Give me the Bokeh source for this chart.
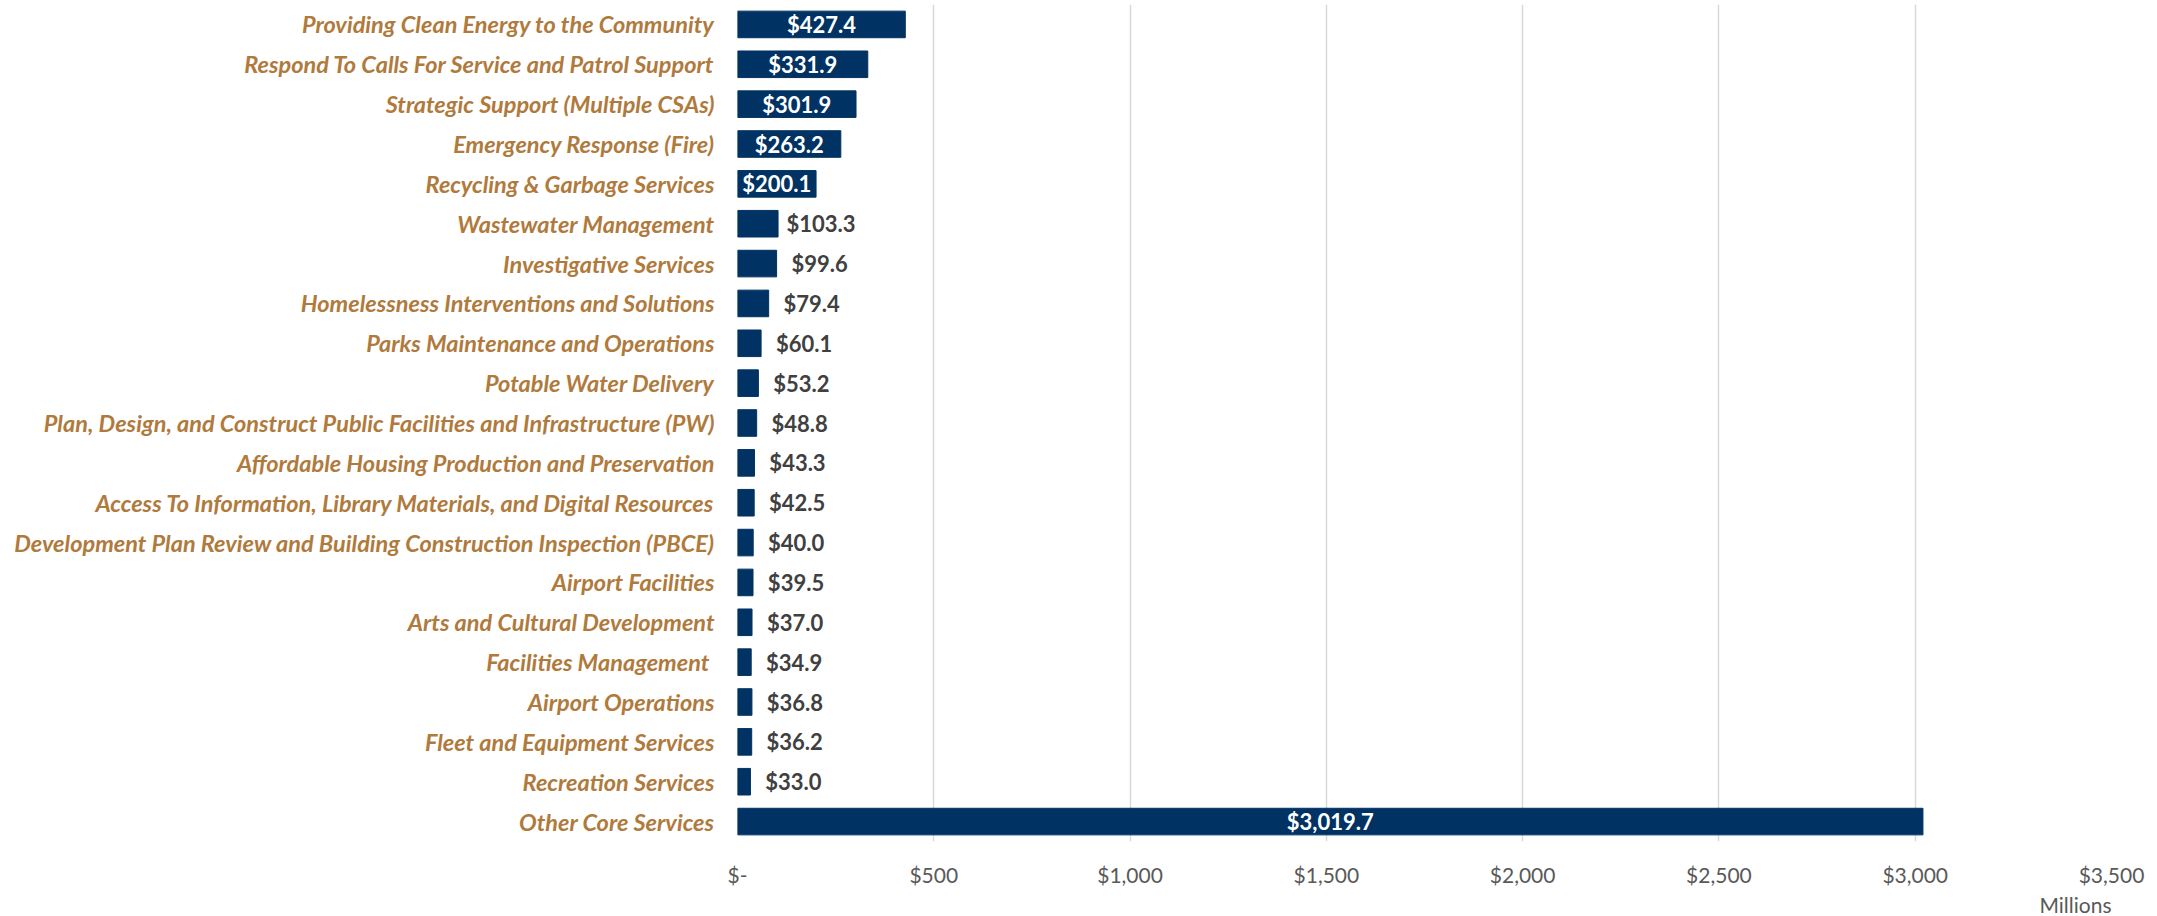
from bokeh.plotting import figure
from bokeh.models import Range1d, FixedTicker, ColumnDataSource, Title
from bokeh.embed import file_html
from bokeh.resources import INLINE
from bokeh.core.properties import value

categories = [
    "Providing Clean Energy to the Community",
    "Respond To Calls For Service and Patrol Support",
    "Strategic Support (Multiple CSAs)",
    "Emergency Response (Fire)",
    "Recycling & Garbage Services",
    "Wastewater Management",
    "Investigative Services",
    "Homelessness Interventions and Solutions",
    "Parks Maintenance and Operations",
    "Potable Water Delivery",
    "Plan, Design, and Construct Public Facilities and Infrastructure (PW)",
    "Affordable Housing Production and Preservation",
    "Access To Information, Library Materials, and Digital Resources",
    "Development Plan Review and Building Construction Inspection (PBCE)",
    "Airport Facilities",
    "Arts and Cultural Development",
    "Facilities  Management",
    "Airport Operations",
    "Fleet and Equipment Services",
    "Recreation Services",
    "Other Core Services",
]
values = [427.4, 331.9, 301.9, 263.2, 200.1, 103.3, 99.6, 79.4, 60.1, 53.2,
          48.8, 43.3, 42.5, 40.0, 39.5, 37.0, 34.9, 36.8, 36.2, 33.0, 3019.7]
x_ticks = [0, 500, 1000, 1500, 2000, 2500, 3000, 3500]
x_tick_labels = ["$-", "$500", "$1,000", "$1,500", "$2,000", "$2,500", "$3,000", "$3,500"]
x_unit_label = "Millions"
inside_threshold = 200

BAR = "#003363"
CAT = "#B07A3C"
TICK = "#595959"
FONT = "Lato"

pos = list(range(len(categories)))
labels = [f"${v:,.1f}" for v in values]

src = ColumnDataSource(dict(y=pos, v=values, lab=labels))
ins = [i for i, v in enumerate(values) if v >= inside_threshold]
outs = [i for i, v in enumerate(values) if v < inside_threshold]
src_in = ColumnDataSource(dict(x=[values[i] / 2 for i in ins], y=[pos[i] for i in ins],
                               lab=[labels[i] for i in ins]))
src_out = ColumnDataSource(dict(x=[values[i] for i in outs], y=[pos[i] for i in outs],
                                lab=[labels[i] for i in outs]))

p = figure(width=2157, height=916, output_backend="svg", toolbar_location=None,
           x_range=Range1d(0, 3500), y_range=Range1d(20.5, -0.5),
           min_border_left=737, min_border_right=46, min_border_top=4,
           min_border_bottom=74)

p.hbar(y="y", right="v", left=0, height=0.667, source=src, fill_color=BAR,
       line_color=BAR)

p.text(x="x", y="y", text="lab", source=src_in, text_font=value(FONT),
       text_font_style="bold", text_font_size="22px", text_color="white",
       text_align="center", text_baseline="middle")
p.text(x="x", y="y", text="lab", source=src_out, text_font=value(FONT),
       text_font_style="bold", text_font_size="22px", text_color="#404040",
       text_align="center", text_baseline="middle", x_offset=43)

p.outline_line_color = None
p.background_fill_color = "white"
p.border_fill_color = "white"

p.ygrid.grid_line_color = None
p.xgrid.grid_line_color = "#D9D9D9"
p.xgrid.grid_line_width = 1.5
p.xgrid.ticker = FixedTicker(ticks=x_ticks)

xa = p.xaxis[0]
xa.ticker = FixedTicker(ticks=x_ticks)
xa.major_label_overrides = {t: l for t, l in zip(x_ticks, x_tick_labels)}
xa.axis_line_color = None
xa.major_tick_line_color = None
xa.minor_tick_line_color = None
xa.major_tick_out = 0
xa.major_label_standoff = 20
xa.major_label_text_font = FONT
xa.major_label_text_font_size = "21px"
xa.major_label_text_color = TICK

ya = p.yaxis[0]
ya.ticker = FixedTicker(ticks=pos)
ya.major_label_overrides = {i: c for i, c in zip(pos, categories)}
ya.axis_line_color = None
ya.major_tick_line_color = None
ya.minor_tick_line_color = None
ya.major_tick_out = 0
ya.major_label_standoff = 23
ya.major_label_text_font = FONT
ya.major_label_text_font_style = "bold italic"
ya.major_label_text_font_size = "23.5px"
ya.major_label_text_color = CAT

p.add_layout(Title(text=x_unit_label, align="right", text_font=FONT,
                   text_font_size="21px", text_font_style="normal",
                   text_color=TICK, standoff=0), "below")

open("out.html", "w").write(file_html(p, INLINE))
